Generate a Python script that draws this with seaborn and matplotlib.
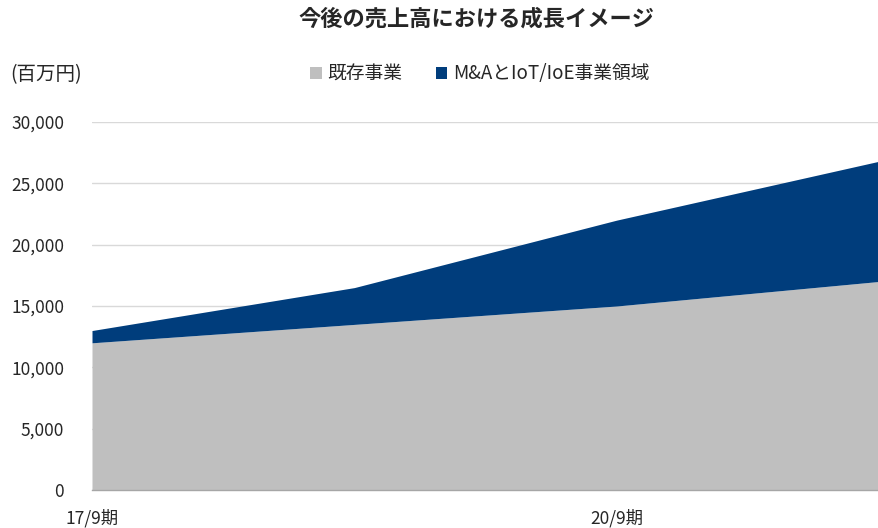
import matplotlib
matplotlib.use("Agg")
import matplotlib.pyplot as plt
import seaborn as sns
import pandas as pd
from matplotlib.patches import Patch

categories = ["17/9期", "18/9期", "20/9期", "22/9期"]
tick_labels = ["17/9期", "", "20/9期", ""]
existing = [12000, 13500, 15000, 17000]
new_biz = [1000, 3000, 7000, 9800]
series_names = ["既存事業", "M&AとIoT/IoE事業領域"]
colors = ["#bfbfbf", "#003d7c"]

sns.set_theme(style="white")
plt.rcParams["font.family"] = ["Noto Sans CJK JP", "DejaVu Sans"]

df = pd.DataFrame({"cat": categories, series_names[0]: existing, series_names[1]: new_biz})
df["pos"] = range(len(df))

fig = plt.figure(figsize=(8.79, 5.28), dpi=100)
ax = fig.add_axes([92/879, 38/528, 1 - 92/879, (490-122)/528])

ax.stackplot(df["pos"], df[series_names[0]], df[series_names[1]],
             colors=colors, linewidth=0, zorder=2)
sns.lineplot(x=df["pos"], y=df[series_names[0]], ax=ax, linewidth=0, legend=False)

ax.set_xlim(0, len(categories) - 1)
ax.set_ylim(0, 30000)
ax.set_yticks(range(0, 30001, 5000))
ax.set_yticklabels([f"{v:,}" for v in range(0, 30001, 5000)], fontsize=12.5)
ax.set_xticks(df["pos"])
ax.set_xticklabels(tick_labels, fontsize=12.5)
ax.tick_params(axis="y", length=0, pad=20)
ax.tick_params(axis="x", length=0, pad=14)
ax.set_xlabel("")
ax.set_ylabel("")
ax.grid(axis="y", color="#d9d9d9", linewidth=1, zorder=0)
ax.set_axisbelow(True)
for s in ["top", "right", "left"]:
    ax.spines[s].set_visible(False)
ax.spines["bottom"].set_color("#a6a6a6")
ax.spines["bottom"].set_linewidth(1)

fig.text(476/879, 1 - 19/528, "今後の売上高における成長イメージ", ha="center", va="center",
         fontsize=16, fontweight="bold")
fig.text(10/879, 1 - 75/528, "(百万円)", ha="left", va="center", fontsize=14)

handles = [Patch(facecolor=c, edgecolor="none") for c in colors]
fig.legend(handles, series_names, loc="center", bbox_to_anchor=(480/879, 1 - 74/528),
           ncol=2, frameon=False, fontsize=13.5, handlelength=0.6, handleheight=0.6,
           handletextpad=0.3, columnspacing=1.8)

fig.savefig("out.png", dpi=100)
